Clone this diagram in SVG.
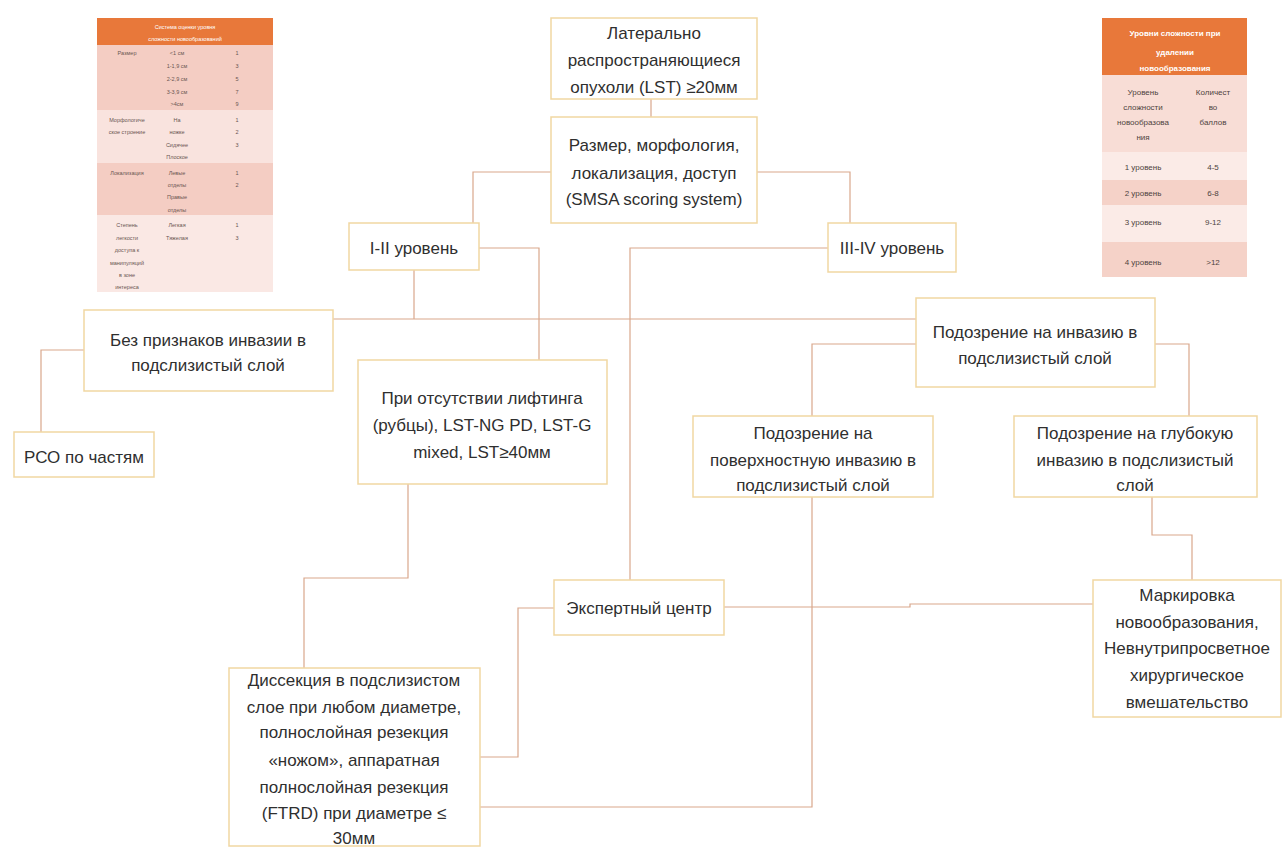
<svg xmlns="http://www.w3.org/2000/svg" width="1282" height="848" viewBox="0 0 1282 848">
<style>
.box{fill:#ffffff;stroke:#f1d7a2;stroke-width:1.5}
.t{font-family:"Liberation Sans",Arial,sans-serif;font-size:17px;fill:#2f2f2f;text-anchor:middle}
.c{fill:none;stroke:#d9a78c;stroke-width:1.2}
.th{font-family:"Liberation Sans",Arial,sans-serif;font-size:5.5px;fill:#ffffff;text-anchor:middle}
.tb{font-family:"Liberation Sans",Arial,sans-serif;font-size:5.5px;fill:#6a5651;text-anchor:middle}
.rh{font-family:"Liberation Sans",Arial,sans-serif;font-size:8px;font-weight:bold;fill:#ffffff;text-anchor:middle}
.rb{font-family:"Liberation Sans",Arial,sans-serif;font-size:8px;fill:#4e4340;text-anchor:middle}
</style>
<rect width="1282" height="848" fill="#ffffff"/>

<g id="table-left">
<rect x="97" y="18" width="176" height="27" fill="#e8783a"/>
<text class="th" x="185" y="29">Система оценки уровня</text>
<text class="th" x="185" y="41">сложности новообразований</text>
<rect x="97" y="45" width="176" height="65" fill="#f4cdc3"/>
<rect x="97" y="110" width="176" height="53" fill="#f9e3de"/>
<rect x="97" y="163" width="176" height="52" fill="#f4cdc3"/>
<rect x="97" y="215" width="176" height="77" fill="#fae8e4"/>
<text class="tb" x="127" y="55">Размер</text>
<text class="tb" x="177" y="55">&lt;1 см</text>
<text class="tb" x="177" y="68">1-1,9 см</text>
<text class="tb" x="177" y="81">2-2,9 см</text>
<text class="tb" x="177" y="94">3-3,9 см</text>
<text class="tb" x="177" y="106">&gt;4см</text>
<text class="tb" x="237" y="55">1</text>
<text class="tb" x="237" y="68">3</text>
<text class="tb" x="237" y="81">5</text>
<text class="tb" x="237" y="94">7</text>
<text class="tb" x="237" y="106">9</text>
<text class="tb" x="127" y="122">Морфологиче</text>
<text class="tb" x="127" y="134">ское строение</text>
<text class="tb" x="177" y="122">На</text>
<text class="tb" x="177" y="134">ножке</text>
<text class="tb" x="177" y="147">Сидячее</text>
<text class="tb" x="177" y="159">Плоское</text>
<text class="tb" x="237" y="122">1</text>
<text class="tb" x="237" y="134">2</text>
<text class="tb" x="237" y="147">3</text>
<text class="tb" x="127" y="175">Локализация</text>
<text class="tb" x="177" y="175">Левые</text>
<text class="tb" x="177" y="187">отделы</text>
<text class="tb" x="177" y="199">Правые</text>
<text class="tb" x="177" y="212">отделы</text>
<text class="tb" x="237" y="175">1</text>
<text class="tb" x="237" y="187">2</text>
<text class="tb" x="127" y="227">Степень</text>
<text class="tb" x="127" y="240">легкости</text>
<text class="tb" x="127" y="252">доступа к</text>
<text class="tb" x="127" y="265">манипуляций</text>
<text class="tb" x="127" y="277">в зоне</text>
<text class="tb" x="127" y="289">интереса</text>
<text class="tb" x="177" y="227">Легкая</text>
<text class="tb" x="177" y="240">Тяжелая</text>
<text class="tb" x="237" y="227">1</text>
<text class="tb" x="237" y="240">3</text>
</g>

<g id="table-right">
<rect x="1102" y="18" width="145" height="57" fill="#e8783a"/>
<text class="rh" x="1175" y="36">Уровни сложности при</text>
<text class="rh" x="1175" y="55">удалении</text>
<text class="rh" x="1175" y="71">новообразования</text>
<rect x="1102" y="75" width="145" height="77" fill="#f8ddd6"/>
<rect x="1102" y="152" width="145" height="28" fill="#fbebe7"/>
<rect x="1102" y="180" width="145" height="25" fill="#f5d2c8"/>
<rect x="1102" y="205" width="145" height="37" fill="#fbebe7"/>
<rect x="1102" y="242" width="145" height="35" fill="#f5d2c8"/>
<text class="rb" x="1143" y="95">Уровень</text>
<text class="rb" x="1143" y="110">сложности</text>
<text class="rb" x="1143" y="125">новообразова</text>
<text class="rb" x="1143" y="140">ния</text>
<text class="rb" x="1213" y="95">Количест</text>
<text class="rb" x="1213" y="110">во</text>
<text class="rb" x="1213" y="125">баллов</text>
<text class="rb" x="1143" y="170">1 уровень</text>
<text class="rb" x="1213" y="170">4-5</text>
<text class="rb" x="1143" y="196">2 уровень</text>
<text class="rb" x="1213" y="196">6-8</text>
<text class="rb" x="1143" y="225">3 уровень</text>
<text class="rb" x="1213" y="225">9-12</text>
<text class="rb" x="1143" y="265">4 уровень</text>
<text class="rb" x="1213" y="265">&gt;12</text>
</g>

<g id="connectors">
<path class="c" d="M651,99 V117"/>
<path class="c" d="M551,172 H473 V223"/>
<path class="c" d="M757,172 H850 V223"/>
<path class="c" d="M414,270 V319"/>
<path class="c" d="M333,319 H916"/>
<path class="c" d="M479,248 H539 V360"/>
<path class="c" d="M828,248 H630 V580"/>
<path class="c" d="M84,350 H41 V432"/>
<path class="c" d="M916,344 H812 V416"/>
<path class="c" d="M1155,344 H1189 V416"/>
<path class="c" d="M408,484 V578 H304 V668"/>
<path class="c" d="M554,608 H518 V757 H480"/>
<path class="c" d="M724,607 H910 V604 H1093"/>
<path class="c" d="M812,497 V807 H480"/>
<path class="c" d="M1152,497 V535 H1192 V580"/>
</g>

<g id="node-lst">
<rect class="box" x="551" y="18" width="206" height="81"/>
<text class="t" x="654" y="39">Латерально</text>
<text class="t" x="654" y="66">распространяющиеся</text>
<text class="t" x="654" y="93">опухоли (LST) ≥20мм</text>
</g>
<g id="node-smsa">
<rect class="box" x="551" y="117" width="206" height="106"/>
<text class="t" x="654" y="151">Размер, морфология,</text>
<text class="t" x="654" y="179">локализация, доступ</text>
<text class="t" x="654" y="205">(SMSA scoring system)</text>
</g>
<g id="node-level12">
<rect class="box" x="349" y="223" width="130" height="47"/>
<text class="t" x="414" y="254">I-II уровень</text>
</g>
<g id="node-level34">
<rect class="box" x="828" y="223" width="128" height="49"/>
<text class="t" x="892" y="254">III-IV уровень</text>
</g>
<g id="node-no-invasion">
<rect class="box" x="84" y="310" width="249" height="81"/>
<text class="t" x="208" y="346">Без признаков инвазии в</text>
<text class="t" x="208" y="371">подслизистый слой</text>
</g>
<g id="node-rso">
<rect class="box" x="14" y="432" width="140" height="45"/>
<text class="t" x="84" y="463">РСО по частям</text>
</g>
<g id="node-no-lifting">
<rect class="box" x="358" y="360" width="249" height="124"/>
<text class="t" x="482" y="404">При отсутствии лифтинга</text>
<text class="t" x="482" y="431">(рубцы), LST-NG PD, LST-G</text>
<text class="t" x="482" y="458">mixed, LST≥40мм</text>
</g>
<g id="node-suspect">
<rect class="box" x="916" y="298" width="239" height="89"/>
<text class="t" x="1035" y="338">Подозрение на инвазию в</text>
<text class="t" x="1035" y="364">подслизистый слой</text>
</g>
<g id="node-superficial">
<rect class="box" x="693" y="416" width="240" height="81"/>
<text class="t" x="813" y="439">Подозрение на</text>
<text class="t" x="813" y="466">поверхностную инвазию в</text>
<text class="t" x="813" y="491">подслизистый слой</text>
</g>
<g id="node-deep">
<rect class="box" x="1014" y="416" width="243" height="81"/>
<text class="t" x="1135" y="439">Подозрение на глубокую</text>
<text class="t" x="1135" y="466">инвазию в подслизистый</text>
<text class="t" x="1135" y="491">слой</text>
</g>
<g id="node-expert">
<rect class="box" x="554" y="580" width="170" height="55"/>
<text class="t" x="639" y="614">Экспертный центр</text>
</g>
<g id="node-marking">
<rect class="box" x="1093" y="580" width="188" height="137"/>
<text class="t" x="1187" y="601">Маркировка</text>
<text class="t" x="1187" y="628">новообразования,</text>
<text class="t" x="1187" y="654">Невнутрипросветное</text>
<text class="t" x="1187" y="681">хирургическое</text>
<text class="t" x="1187" y="708">вмешательство</text>
</g>
<g id="node-dissection">
<rect class="box" x="229" y="668" width="251" height="178"/>
<text class="t" x="354" y="686">Диссекция в подслизистом</text>
<text class="t" x="354" y="713">слое при любом диаметре,</text>
<text class="t" x="354" y="738">полнослойная резекция</text>
<text class="t" x="354" y="766">«ножом», аппаратная</text>
<text class="t" x="354" y="793">полнослойная резекция</text>
<text class="t" x="354" y="819">(FTRD) при диаметре ≤</text>
<text class="t" x="354" y="844">30мм</text>
</g>
</svg>
